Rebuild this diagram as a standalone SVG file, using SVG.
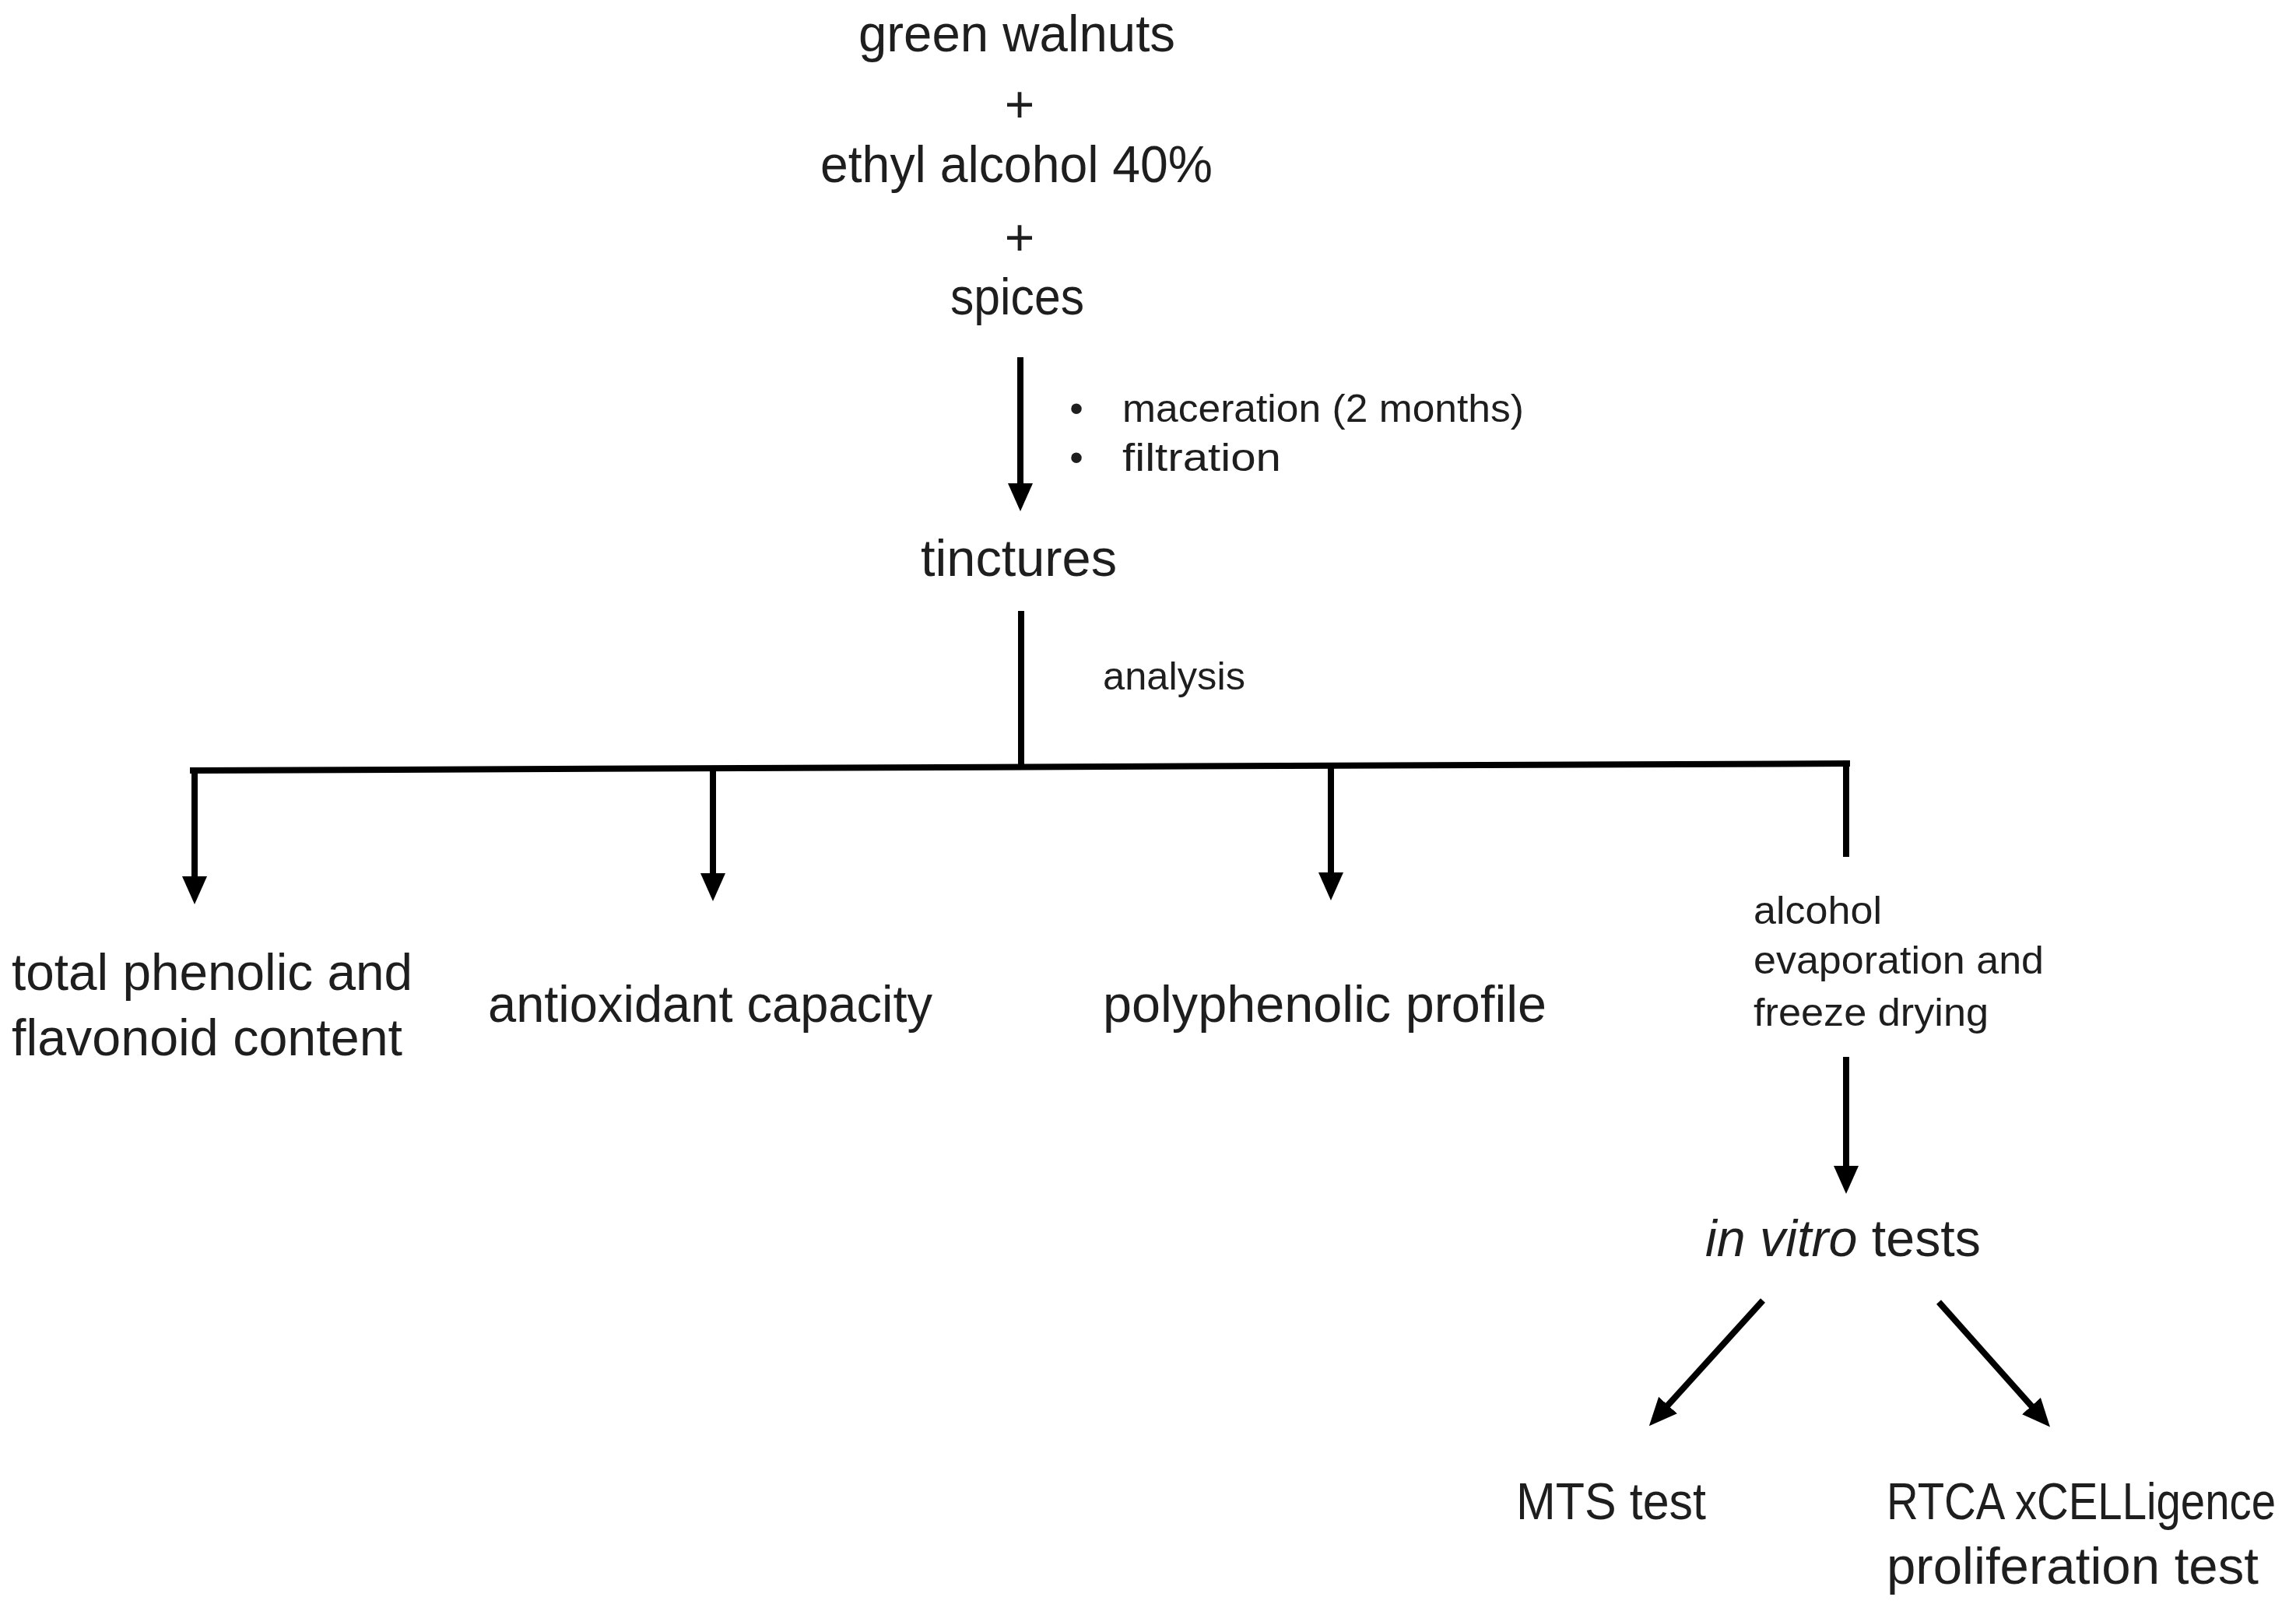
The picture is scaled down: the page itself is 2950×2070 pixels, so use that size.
<svg xmlns="http://www.w3.org/2000/svg" width="2950" height="2070" viewBox="0 0 2950 2070">
<style>
.t{font-family:"Liberation Sans",Arial,sans-serif;fill:#1e1e1e;}
.L{font-size:66px;}
.S{font-size:50px;}
.c{stroke:#000;stroke-width:8;fill:none;stroke-linecap:butt;}
</style>
<defs>
<marker id="ah" markerUnits="userSpaceOnUse" markerWidth="40" markerHeight="34" refX="6" refY="16" orient="auto">
<path d="M0,0 L36,16 L0,32 Z" fill="#000"/>
</marker>
</defs>
<rect width="2950" height="2070" fill="#fff"/>
<g id="connectors">
<path class="c" d="M1311,459 L1311,627" stroke-width="9" marker-end="url(#ah)"/>
<path class="c" d="M1312,785 L1312,988"/>
<path class="c" d="M244,990 L2377,981" stroke-width="10"/>
<path class="c" d="M250,988 L250,1132" stroke-width="7" marker-end="url(#ah)"/>
<path class="c" d="M916,987 L916,1128" stroke-width="7" marker-end="url(#ah)"/>
<path class="c" d="M1710,984 L1710,1127" stroke-width="7" marker-end="url(#ah)"/>
<path class="c" d="M2372,977 L2372,1101" stroke-width="10"/>
<path class="c" d="M2372,1358 L2372,1504" marker-end="url(#ah)"/>
<path class="c" d="M2265,1671 L2139,1810" marker-end="url(#ah)"/>
<path class="c" d="M2491,1673 L2614,1811" marker-end="url(#ah)"/>
</g>
<g id="ingredients">
<text class="t L" x="1103" y="66" textLength="407" lengthAdjust="spacingAndGlyphs">green walnuts</text>
<text class="t L" x="1310" y="157" text-anchor="middle">+</text>
<text class="t L" x="1054" y="234" textLength="504" lengthAdjust="spacingAndGlyphs">ethyl alcohol 40%</text>
<text class="t L" x="1310" y="328" text-anchor="middle">+</text>
<text class="t L" x="1221" y="404" textLength="172" lengthAdjust="spacingAndGlyphs">spices</text>
</g>
<g id="process-steps">
<text class="t S" x="1383" y="542" text-anchor="middle">•</text>
<text class="t S" x="1442" y="542" textLength="516" lengthAdjust="spacingAndGlyphs">maceration (2 months)</text>
<text class="t S" x="1383" y="605" text-anchor="middle">•</text>
<text class="t S" x="1442" y="605" textLength="204" lengthAdjust="spacingAndGlyphs">filtration</text>
</g>
<g id="tinctures">
<text class="t L" x="1183" y="740" textLength="252" lengthAdjust="spacingAndGlyphs">tinctures</text>
</g>
<g id="analysis-label">
<text class="t S" x="1417" y="886" textLength="183" lengthAdjust="spacingAndGlyphs">analysis</text>
</g>
<g id="phenolic">
<text class="t L" x="15" y="1272" textLength="515" lengthAdjust="spacingAndGlyphs">total phenolic and</text>
<text class="t L" x="15" y="1356" textLength="502" lengthAdjust="spacingAndGlyphs">flavonoid content</text>
</g>
<g id="antioxidant">
<text class="t L" x="627" y="1313" textLength="571" lengthAdjust="spacingAndGlyphs">antioxidant capacity</text>
</g>
<g id="polyphenolic">
<text class="t L" x="1417" y="1313" textLength="570" lengthAdjust="spacingAndGlyphs">polyphenolic profile</text>
</g>
<g id="evaporation">
<text class="t S" x="2253" y="1187" textLength="165" lengthAdjust="spacingAndGlyphs">alcohol</text>
<text class="t S" x="2253" y="1251" textLength="373" lengthAdjust="spacingAndGlyphs">evaporation and</text>
<text class="t S" x="2253" y="1318" textLength="302" lengthAdjust="spacingAndGlyphs">freeze drying</text>
</g>
<g id="invitro">
<text class="t L" x="2191" y="1614" textLength="354" lengthAdjust="spacingAndGlyphs"><tspan font-style="italic">in vitro</tspan> tests</text>
</g>
<g id="mts">
<text class="t L" x="1948" y="1952" textLength="244" lengthAdjust="spacingAndGlyphs">MTS test</text>
</g>
<g id="rtca">
<text class="t L" x="2424" y="1952" textLength="500" lengthAdjust="spacingAndGlyphs">RTCA xCELLigence</text>
<text class="t L" x="2424" y="2035" textLength="478" lengthAdjust="spacingAndGlyphs">proliferation test</text>
</g>
</svg>
